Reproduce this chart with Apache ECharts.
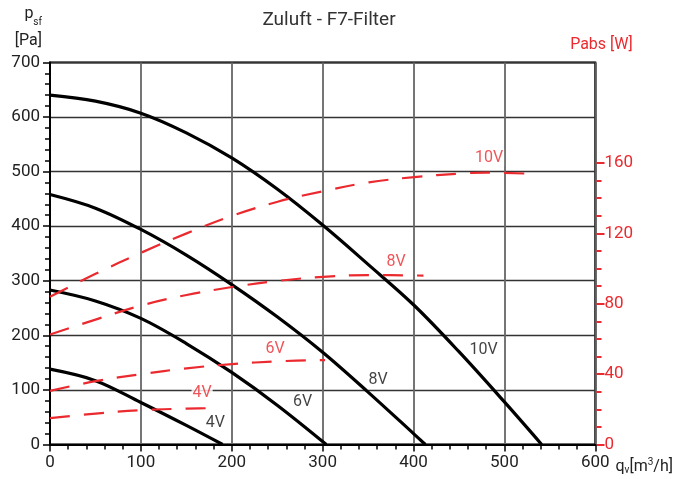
<!DOCTYPE html>
<html><head><meta charset="utf-8">
<script src="https://cdn.jsdelivr.net/npm/echarts@6/dist/echarts.min.js"></script>
<style>html,body{margin:0;padding:0;background:#fff}#c{width:676px;height:479px}</style>
</head><body><div id="c"></div>
<script>
// Pressure curves p_sf [Pa] vs q_v [m3/h]
const pressure4V  = [[0,138],[50,117],[100,77],[150,35],[190,0]];
const pressure6V  = [[0,283],[50,263],[100,231],[150,185],[200,132],[250,72],[304,0]];
const pressure8V  = [[0,458],[50,433],[100,394],[150,347],[200,293],[250,234],[300,169],[350,96],[400,20],[413,0]];
const pressure10V = [[0,640],[50,629],[100,607],[150,571],[200,525],[250,468],[300,402],[350,330],[400,256],[450,170],[500,78],[541,0]];
// Power curves Pabs [W] vs q_v [m3/h]
const power4V  = [[0,15],[50,17.6],[100,19.5],[150,20.4],[183,20.7]];
const power6V  = [[0,30.5],[50,36],[100,40],[150,43.3],[200,45.7],[250,47.3],[302,48]];
const power8V  = [[0,62.5],[50,71],[100,79],[150,85],[200,89.5],[250,93],[300,95.3],[350,96.3],[410,96]];
const power10V = [[0,84],[50,97],[100,109],[150,120],[200,130],[250,138],[300,144],[350,149],[400,152],[450,154],[479,154.5],[523,154]];
// Curve labels (data coordinates)
const pressureLabels = [[182,40,'4V'],[278,77,'6V'],[361,118,'8V'],[477,174,'10V']];
const powerLabels    = [[167,29,'4V'],[247,54,'6V'],[380,104,'8V'],[482,163,'10V']];
// Axis settings
const xMax = 600, xStep = 100;
const pMax = 700, pStep = 100;
const wMax = 160, wStep = 40;

const FONT = 'Roboto, sans-serif';
const RED = '#ea2a2f';
const chart = echarts.init(document.getElementById('c'));

function pLine(d){return {type:'line',xAxisIndex:0,yAxisIndex:0,data:d,smooth:0.35,symbol:'none',lineStyle:{color:'#000',width:3.2},z:3};}
function wLine(d){return {type:'line',xAxisIndex:1,yAxisIndex:1,data:d,smooth:0.35,symbol:'none',lineStyle:{color:RED,width:2.2,type:[20,14]},z:4};}

const option = {
  animation:false,
  backgroundColor:'#fff',
  title:{text:'Zuluft - F7-Filter',left:324,top:6,textAlign:'center',textStyle:{fontFamily:FONT,fontSize:19,fontWeight:'normal',color:'#333'}},
  grid:[
    {left:50,right:79.5,top:57.5,bottom:34.5,show:true,borderColor:'#000',borderWidth:2,backgroundColor:'transparent'},
    {left:50,right:79.5,top:163,bottom:34.5}
  ],
  xAxis:[
    {type:'value',gridIndex:0,min:0,max:xMax,interval:xStep,
     name:'q{sub|v}[m{sup|3}/h]',nameLocation:'end',nameGap:17,
     nameTextStyle:{fontFamily:FONT,fontSize:16,color:'#222',verticalAlign:'middle',align:'left',padding:[44,0,0,0],
       rich:{sub:{fontSize:10,verticalAlign:'bottom',padding:[8,0,0,0],fontFamily:FONT,color:'#222'},sup:{fontSize:10,verticalAlign:'top',padding:[0,0,8,0],fontFamily:FONT,color:'#222'}}},
     axisLine:{show:true,onZero:false,lineStyle:{color:'#000',width:2}},
     axisTick:{show:true,length:7,inside:false,lineStyle:{color:'#000',width:1.5}},
     minorTick:{show:true,splitNumber:5,length:5,lineStyle:{color:'#000',width:1.5}},
     axisLabel:{fontFamily:FONT,fontSize:17,color:'#222',margin:10},
     splitLine:{show:true,lineStyle:{color:'#666',width:1.8}}},
    {type:'value',gridIndex:1,min:0,max:xMax,show:false}
  ],
  yAxis:[
    {type:'value',gridIndex:0,min:0,max:pMax,interval:pStep,position:'left',
     name:'p{sub|sf}\n[Pa]',nameLocation:'end',nameGap:4,
     nameTextStyle:{fontFamily:FONT,fontSize:16,color:'#222',align:'right',verticalAlign:'bottom',lineHeight:27,padding:[0,8,0,0],
       rich:{sub:{fontSize:10,verticalAlign:'bottom',padding:[4,0,0,0],fontFamily:FONT,color:'#222',lineHeight:27}}},
     axisLine:{show:true,onZero:false,lineStyle:{color:'#000',width:2}},
     axisTick:{show:true,length:7,inside:false,lineStyle:{color:'#000',width:1.5}},
     minorTick:{show:true,splitNumber:5,length:5,lineStyle:{color:'#000',width:1.5}},
     axisLabel:{fontFamily:FONT,fontSize:17,color:'#222',margin:10},
     splitLine:{show:true,lineStyle:{color:'#333',width:1.3}}},
    {type:'value',gridIndex:1,min:0,max:wMax,interval:wStep,position:'right',
     name:'Pabs [W]',nameLocation:'end',nameGap:118,
     nameTextStyle:{fontFamily:FONT,fontSize:16,color:RED,align:'center',verticalAlign:'middle',padding:[0,0,0,10]},
     axisLine:{show:false,onZero:false},
     axisTick:{show:true,length:8,inside:false,lineStyle:{color:RED,width:2}},
     minorTick:{show:true,splitNumber:4,length:5,lineStyle:{color:RED,width:2}},
     axisLabel:{fontFamily:FONT,fontSize:17,color:RED,margin:8},
     splitLine:{show:false}}
  ],
  series:[
    pLine(pressure4V),pLine(pressure6V),pLine(pressure8V),pLine(pressure10V),
    wLine(power4V),wLine(power6V),wLine(power8V),wLine(power10V),
    {type:'scatter',xAxisIndex:0,yAxisIndex:0,data:pressureLabels,symbol:'circle',symbolSize:1,itemStyle:{color:'rgba(0,0,0,0)'},z:6,silent:true,clip:false,
     label:{show:true,position:'inside',formatter:p=>p.value[2],fontFamily:FONT,fontSize:16,color:'#111'}},
    {type:'scatter',xAxisIndex:1,yAxisIndex:1,data:powerLabels,symbol:'circle',symbolSize:1,itemStyle:{color:'rgba(0,0,0,0)'},z:6,silent:true,clip:false,
     label:{show:true,position:'inside',formatter:p=>p.value[2],fontFamily:FONT,fontSize:16,color:RED,backgroundColor:'#fff',padding:[1,1,0,1]}}
  ]
};
chart.setOption(option);
</script></body></html>
